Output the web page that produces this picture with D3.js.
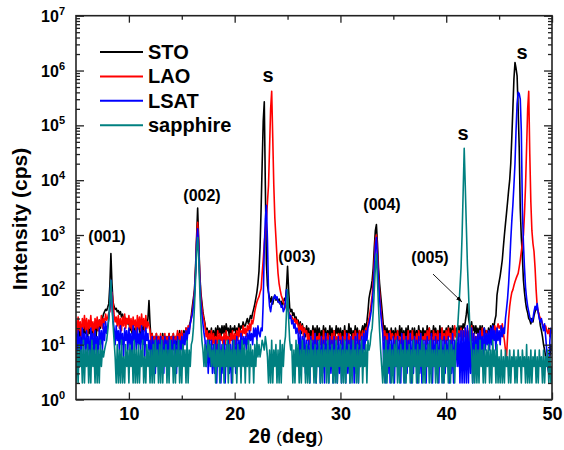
<!DOCTYPE html>
<html><head><meta charset="utf-8">
<script src="https://cdn.jsdelivr.net/npm/d3@7"></script>
<style>
body{margin:0;background:#fff}
svg{display:block}
text{font-family:"Liberation Sans",Arial,sans-serif;font-weight:bold;fill:#000}
</style>
</head><body>
<svg id="chart" width="564" height="450"></svg>
<script>
// ---- sampling grid (2theta, deg) ----
const twoThetaStart = 5;
const twoThetaStep = 0.1;

// ---- series (intensity, cps), one row per degree: x.0 ... x.9 ----
const sto = [
20,12,22,14,18,10,20,14,22,16, // 5
20,14,22,16,18,12,24,16,22,14, // 6
24,18,28,20,26,30,36,40,44,42, // 7
48,56,120,460,130,60,50,44,46,40, // 8
42,36,40,32,36,28,32,26,30,24, // 9
26,18,24,16,22,16,20,24,18,22, // 10
20,14,22,16,24,18,26,22,30,64, // 11
24,12,16,10,14,8,16,10,14,8, // 12
14,8,16,10,14,6,14,10,16,8, // 13
14,8,16,10,14,10,16,12,18,12, // 14
16,12,18,14,20,14,18,22,26,34, // 15
50,70,100,250,900,3100,800,200,90,60, // 16
40,30,24,16,20,14,18,14,20,12, // 17
18,12,20,14,22,16,20,14,22,16, // 18
22,16,24,18,20,14,22,16,20,18, // 19
22,16,20,18,24,18,22,20,26,22, // 20
22,26,30,24,28,34,30,38,45,55, // 21
70,90,130,220,600,3000,20000,120000,270000,8000, // 22
300,120,90,70,60,75,55,70,80,65, // 23
72,60,68,55,62,50,58,70,64,110, // 24
270,100,48,40,44,34,38,30,32,26, // 25
28,18,26,16,24,18,20,14,22,16, // 26
20,12,18,14,22,14,20,12,22,14, // 27
20,12,18,14,22,14,20,12,18,14, // 28
22,14,20,12,18,14,22,16,20,14, // 29
20,12,18,14,22,12,18,14,24,16, // 30
20,12,18,14,22,14,20,12,18,14, // 31
18,22,16,24,20,26,40,70,90,110, // 32
150,250,600,1200,1550,700,250,130,80,50, // 33
30,18,22,14,20,14,18,12,20,14, // 34
18,12,20,14,18,12,22,14,20,12, // 35
18,12,20,14,22,12,18,14,20,12, // 36
20,12,18,14,22,14,18,12,20,14, // 37
18,12,22,14,20,12,18,14,22,16, // 38
20,14,18,12,22,14,20,12,18,14, // 39
20,14,22,16,20,14,22,16,20,14, // 40
20,14,22,16,22,18,24,20,26,36, // 41
55,32,24,16,26,18,22,16,22,16, // 42
20,14,22,16,22,14,20,16,18,14, // 43
20,14,22,16,24,20,28,34,80,110, // 44
140,180,250,350,600,1000,1600,2500,4000,6500, // 45
10000,20000,60000,200000,700000,1400000,1100000,800000,200000,40000, // 46
3000,900,400,150,90,60,45,38,30,28, // 47
24,30,26,34,40,46,44,40,32,22, // 48
18,14,10,8,6,5,4,3,6,10, // 49
8 // 50
];

const lao = [
28,16,32,18,26,14,30,20,34,18, // 5
30,16,28,20,34,18,26,14,30,20, // 6
32,18,28,22,34,20,30,24,36,28, // 7
32,38,40,70,90,60,36,26,32,22, // 8
34,20,30,18,32,22,36,20,30,24, // 9
34,20,30,18,32,22,28,16,34,20, // 10
32,18,36,22,30,18,34,20,26,22, // 11
18,10,16,8,14,10,16,8,14,10, // 12
16,8,14,10,16,8,14,10,16,8, // 13
14,10,16,8,14,12,18,10,16,12, // 14
18,10,16,12,20,14,22,18,24,30, // 15
40,60,90,220,800,1700,700,180,80,50, // 16
36,28,22,14,18,10,16,12,18,10, // 17
16,10,14,8,18,10,16,12,14,10, // 18
16,10,18,12,14,8,16,12,18,10, // 19
16,10,18,12,20,14,18,14,22,16, // 20
20,14,22,18,24,18,28,24,30,40, // 21
50,60,68,75,90,105,200,350,700,1200, // 22
1900,4000,8000,40000,200000,420000,60000,8000,2000,900, // 23
400,200,130,100,80,70,60,55,50,45, // 24
48,40,36,34,32,30,26,30,24,28, // 25
22,16,24,18,22,14,20,16,18,12, // 26
16,10,14,12,18,10,16,10,14,12, // 27
16,10,14,8,18,10,14,12,16,10, // 28
14,10,16,8,18,12,14,10,16,12, // 29
16,10,14,8,18,12,14,10,16,10, // 30
14,10,16,8,18,12,16,10,18,12, // 31
14,18,12,16,20,18,24,30,40,55, // 32
80,150,350,800,1000,450,180,90,50,30, // 33
20,12,18,10,16,10,14,18,12,16, // 34
14,8,16,10,18,12,14,8,16,10, // 35
16,10,14,8,18,10,16,12,18,10, // 36
14,10,16,8,18,12,16,10,14,12, // 37
16,10,18,12,20,10,14,8,18,12, // 38
16,10,18,12,14,8,20,12,16,10, // 39
18,12,20,14,16,10,18,12,22,14, // 40
16,12,18,14,20,12,18,14,20,12, // 41
18,12,20,14,22,12,16,10,14,12, // 42
16,12,18,10,20,14,16,10,18,12, // 43
16,12,18,12,20,14,22,16,20,24, // 44
20,22,18,24,16,12,8,6,14,30, // 45
50,70,90,100,120,140,160,180,200,260, // 46
350,500,700,1000,2500,8000,40000,200000,420000,30000, // 47
4000,1200,700,500,250,100,50,40,34,30, // 48
28,24,22,20,22,18,16,20,14,18, // 49
16 // 50
];

const lsat = [
16,6,18,8,14,4,20,10,16,6, // 5
18,8,14,4,20,10,16,6,18,8, // 6
14,6,20,10,18,8,24,12,26,16, // 7
22,30,50,150,60,28,20,10,22,12, // 8
18,8,22,10,16,6,20,12,18,8, // 9
20,10,16,6,22,12,18,8,20,10, // 10
16,8,22,10,18,6,20,12,16,8, // 11
12,4,14,6,12,3,14,6,12,4, // 12
14,6,12,3,14,8,12,4,14,6, // 13
12,4,14,8,12,3,14,6,12,8, // 14
14,6,16,10,18,12,20,16,24,30, // 15
36,50,80,200,700,1300,600,150,60,36, // 16
24,16,12,4,12,3,12,4,12,3, // 17
10,3,12,2,10,4,12,2,10,3, // 18
12,2,10,4,12,3,10,2,12,4, // 19
12,3,14,4,12,6,16,8,14,10, // 20
14,8,16,10,18,12,16,10,20,14, // 21
20,12,22,16,14,20,18,60,600,2000, // 22
3500,800,90,50,40,55,65,72,80,68, // 23
75,62,58,60,48,52,40,45,60,100, // 24
70,40,30,34,24,28,20,24,16,20, // 25
16,6,18,4,14,8,16,3,12,4, // 26
12,2,14,4,12,3,16,2,12,4, // 27
12,2,14,3,12,2,16,4,12,2, // 28
14,3,12,2,14,4,12,2,14,3, // 29
12,2,14,4,12,2,16,3,12,2, // 30
14,4,12,2,14,3,16,2,12,4, // 31
14,6,16,8,18,12,20,24,30,40, // 32
60,100,250,600,900,350,140,70,40,24, // 33
16,4,14,2,12,3,16,2,12,4, // 34
14,2,12,4,14,3,12,2,16,4, // 35
12,2,14,3,12,4,16,2,12,3, // 36
14,4,12,2,14,3,16,2,12,4, // 37
12,2,14,4,12,3,16,2,12,4, // 38
14,3,12,2,16,4,12,2,14,3, // 39
12,4,14,2,12,3,16,2,12,4, // 40
14,4,16,2,18,2,18,2,20,2, // 41
22,2,18,3,20,2,16,4,14,6, // 42
16,6,18,8,14,6,20,8,16,10, // 43
18,8,20,10,22,12,18,8,20,12, // 44
18,10,22,14,20,16,30,45,70,130, // 45
300,800,1800,3500,8000,20000,80000,250000,400000,380000, // 46
300000,80000,3000,700,250,110,70,50,40,32, // 47
28,26,30,40,50,44,56,38,30,26, // 48
30,22,18,24,14,8,5,3,12,20, // 49
18 // 50
];

const sapphire = [
2,8,2,10,4,8,2,12,2,8, // 5
4,10,2,8,2,12,4,8,2,10, // 6
2,8,2,12,4,8,6,8,10,12, // 7
18,30,60,150,50,24,12,6,2,10, // 8
2,8,2,12,2,6,2,10,4,8, // 9
2,10,4,8,2,12,2,8,2,10, // 10
2,8,4,12,2,6,2,10,4,8, // 11
2,8,2,10,2,12,4,8,2,10, // 12
2,12,2,8,4,10,2,8,2,12, // 13
4,8,2,10,2,8,4,12,2,8, // 14
2,10,4,8,2,12,2,8,4,10, // 15
12,20,50,150,500,900,400,100,30,12, // 16
8,4,10,4,8,12,6,10,4,8, // 17
4,10,2,8,4,12,2,8,4,10, // 18
2,8,4,12,2,10,4,8,2,12, // 19
4,8,2,10,4,8,2,12,4,10, // 20
2,8,4,12,2,10,4,8,2,10, // 21
4,12,6,10,6,8,12,10,8,14, // 22
10,6,2,8,2,12,2,8,4,10, // 23
2,8,2,12,2,10,4,10,14,40, // 24
100,30,12,8,10,2,8,2,12,4, // 25
10,2,8,2,12,4,8,2,10,2, // 26
8,2,12,4,8,2,10,2,8,4, // 27
12,2,8,2,10,4,8,2,12,2, // 28
8,4,10,2,8,2,12,2,8,4, // 29
10,2,8,2,12,2,8,4,10,2, // 30
8,2,12,4,8,2,10,2,8,4, // 31
12,2,8,4,10,2,12,8,10,16, // 32
20,40,100,250,450,150,50,18,8,4, // 33
2,8,2,12,2,8,4,10,2,8, // 34
2,10,4,12,2,8,2,10,4,8, // 35
2,12,2,8,4,10,2,8,2,12, // 36
4,8,2,10,2,8,4,12,2,10, // 37
2,8,4,10,2,12,2,8,4,8, // 38
2,10,2,8,4,12,2,8,2,10, // 39
4,8,2,12,2,10,4,8,2,10, // 40
14,24,50,110,250,1000,6000,38000,8000,1500, // 41
300,100,30,12,8,2,8,2,10,2, // 42
8,2,12,4,8,2,10,2,8,4, // 43
10,2,8,2,12,4,8,2,10,2, // 44
6,2,8,2,6,2,8,4,6,2, // 45
8,2,6,4,8,2,6,2,8,4, // 46
6,2,8,4,6,2,10,2,6,2, // 47
8,2,6,4,8,2,6,2,8,4, // 48
6,2,8,2,6,4,8,2,6,2, // 49
4 // 50
];

const seriesNames = ["STO", "LAO", "LSAT", "sapphire"];
const seriesData = [sto, lao, lsat, sapphire];
const seriesColors = ["#000000", "#ff0000", "#0000ff", "#008080"];

const xTickValues = [10, 20, 30, 40, 50];
const xMinorTickValues = [15, 25, 35, 45];
const yTickExponents = [0, 1, 2, 3, 4, 5, 6, 7];

// peak annotations (2theta, intensity)
const peakLabelText = ["(001)", "(002)", "s", "(003)", "(004)", "(005)", "s", "s"];
const peakLabelX = [7.93, 16.91, 23.15, 25.89, 33.93, 38.47, 41.59, 47.16];
const peakLabelY = [745, 4170, 6.2e5, 322, 2860, 309, 5.4e4, 1.62e6];
const arrowFrom = [38.75, 194];
const arrowTo = [41.49, 60];

// ---- layout ----
const svg = d3.select("#chart");
const L = 76, R = 552, T = 15.7, B = 399.5;

const x = d3.scaleLinear().domain([5, 50]).range([L, R]);
const y = d3.scaleLog().domain([1, 1e7]).range([B, T]);

svg.append("defs").append("clipPath").attr("id", "clip")
  .append("rect").attr("x", L).attr("y", T).attr("width", R - L).attr("height", B - T);

// ---- series ----
const line = d3.line()
  .x((d, i) => x(twoThetaStart + i * twoThetaStep))
  .y(d => y(d));

const plot = svg.append("g").attr("clip-path", "url(#clip)");
seriesData.forEach((arr, k) => {
  plot.append("path").datum(arr)
    .attr("d", line)
    .attr("fill", "none")
    .attr("stroke", seriesColors[k])
    .attr("stroke-width", 1.6)
    .attr("stroke-linejoin", "round");
});

// ---- axes / ticks ----
const minorY = [];
for (let e = 0; e < 7; e++) for (let m = 2; m <= 9; m++) minorY.push(m * Math.pow(10, e));
const majorY = yTickExponents.map(e => Math.pow(10, e));

function styleAxis(g) {
  g.select(".domain").remove();
  g.selectAll(".tick line").attr("stroke", "#222").attr("stroke-width", 1.3);
}
// bottom
svg.append("g").attr("transform", `translate(0,${B})`)
  .call(d3.axisBottom(x).tickValues(xTickValues).tickSize(-7).tickPadding(8).tickFormat(d3.format("d")))
  .call(styleAxis)
  .call(g => g.selectAll("text").attr("font-size", 18).attr("font-family", "Liberation Sans, Arial, sans-serif").attr("font-weight", "bold").attr("fill", "#000"));
svg.append("g").attr("transform", `translate(0,${B})`)
  .call(d3.axisBottom(x).tickValues(xMinorTickValues).tickSize(-4).tickFormat(""))
  .call(styleAxis);
// top
svg.append("g").attr("transform", `translate(0,${T})`)
  .call(d3.axisTop(x).tickValues(xTickValues).tickSize(-7).tickFormat(""))
  .call(styleAxis);
svg.append("g").attr("transform", `translate(0,${T})`)
  .call(d3.axisTop(x).tickValues(xMinorTickValues).tickSize(-4).tickFormat(""))
  .call(styleAxis);
// left
svg.append("g").attr("transform", `translate(${L},0)`)
  .call(d3.axisLeft(y).tickValues(majorY).tickSize(-8).tickFormat(""))
  .call(styleAxis);
svg.append("g").attr("transform", `translate(${L},0)`)
  .call(d3.axisLeft(y).tickValues(minorY).tickSize(-4).tickFormat(""))
  .call(styleAxis);
// right
svg.append("g").attr("transform", `translate(${R},0)`)
  .call(d3.axisRight(y).tickValues(majorY).tickSize(-8).tickFormat(""))
  .call(styleAxis);
svg.append("g").attr("transform", `translate(${R},0)`)
  .call(d3.axisRight(y).tickValues(minorY).tickSize(-4).tickFormat(""))
  .call(styleAxis);

// frame
svg.append("rect").attr("x", L).attr("y", T).attr("width", R - L).attr("height", B - T)
  .attr("fill", "none").attr("stroke", "#222").attr("stroke-width", 1.6);

// y tick labels 10^n
yTickExponents.forEach(e => {
  const t = svg.append("text").attr("x", L - 11).attr("y", y(Math.pow(10, e)) + 6)
    .attr("text-anchor", "end").attr("font-size", 16);
  t.append("tspan").text("10");
  t.append("tspan").attr("dy", -7).attr("font-size", 11).text(e);
});

// axis titles
svg.append("text").attr("transform", "translate(27,219) rotate(-90)")
  .attr("text-anchor", "middle").attr("font-size", 21).text("Intensity (cps)");
const xt = svg.append("text").attr("x", 286).attr("y", 443).attr("text-anchor", "middle").attr("font-size", 20);
xt.append("tspan").text("2θ ");
xt.append("tspan").attr("font-weight", "normal").attr("font-size", 17).text("(");
xt.append("tspan").text("deg");
xt.append("tspan").attr("font-weight", "normal").attr("font-size", 17).text(")");

// peak labels
peakLabelText.forEach((s, i) => {
  svg.append("text").attr("x", x(peakLabelX[i])).attr("y", y(peakLabelY[i]))
    .attr("text-anchor", "middle").attr("font-size", s === "s" ? 20 : 16).text(s);
});

// arrow
const defs = svg.select("defs");
defs.append("marker").attr("id", "ah").attr("viewBox", "0 0 10 10").attr("refX", 10).attr("refY", 5)
  .attr("markerWidth", 7).attr("markerHeight", 7).attr("orient", "auto")
  .append("path").attr("d", "M0,1.5 L10,5 L0,8.5 Z").attr("fill", "#000");
svg.append("line")
  .attr("x1", x(arrowFrom[0])).attr("y1", y(arrowFrom[1]))
  .attr("x2", x(arrowTo[0])).attr("y2", y(arrowTo[1]))
  .attr("stroke", "#000").attr("stroke-width", 0.9).attr("marker-end", "url(#ah)");

// legend
const lg = svg.append("g");
seriesNames.forEach((n, i) => {
  const yy = 52 + i * 24.4;
  lg.append("line").attr("x1", 100).attr("x2", 143).attr("y1", yy).attr("y2", yy)
    .attr("stroke", seriesColors[i]).attr("stroke-width", 2);
  lg.append("text").attr("x", 148).attr("y", yy + 7).attr("font-size", 20).text(n);
});
</script>
</body></html>
